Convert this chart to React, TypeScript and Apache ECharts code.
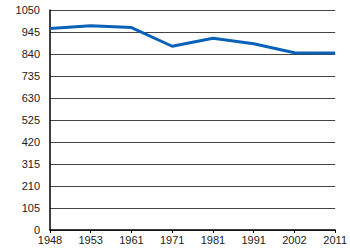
import React, { useEffect, useRef } from "react";
import * as echarts from "echarts";

const years = ["1948", "1953", "1961", "1971", "1981", "1991", "2002", "2011"];
const values = [962, 975, 966, 877, 915, 889, 846, 845];
const yMin = 0;
const yMax = 1050;
const yStep = 105;

export default function App() {
  const ref = useRef<HTMLDivElement>(null);
  useEffect(() => {
    const chart = echarts.init(ref.current!, null, { renderer: "svg" });
    chart.setOption({
      animation: false,
      backgroundColor: "#ffffff",
      grid: { left: 50, right: 14, top: 10, bottom: 20, containLabel: false },
      xAxis: {
        type: "category",
        data: years,
        boundaryGap: false,
        axisLine: { lineStyle: { color: "#000", width: 1.5 } },
        axisTick: { show: true, length: 3, lineStyle: { color: "#000" } },
        axisLabel: { color: "#222", fontFamily: "Liberation Sans", fontSize: 11, margin: 4, interval: 0 },
        splitLine: { show: false },
      },
      yAxis: {
        type: "value",
        min: yMin,
        max: yMax,
        interval: yStep,
        axisLine: { show: true, lineStyle: { color: "#000", width: 1.5 } },
        axisTick: { show: false },
        axisLabel: {
          color: "#222",
          fontFamily: "Liberation Sans",
          fontSize: 11,
          margin: 10,
          formatter: (v: number) => String(v),
        },
        splitLine: { show: true, lineStyle: { color: "#444", width: 1 } },
      },
      series: [
        {
          type: "line",
          data: values,
          symbol: "none",
          lineStyle: { color: "#0a62b8", width: 3 },
          itemStyle: { color: "#0a62b8" },
        },
      ],
    });
    return () => chart.dispose();
  }, []);
  return <div ref={ref} style={{ width: 350, height: 250, position: "absolute", left: 0, top: 0 }} />;
}
